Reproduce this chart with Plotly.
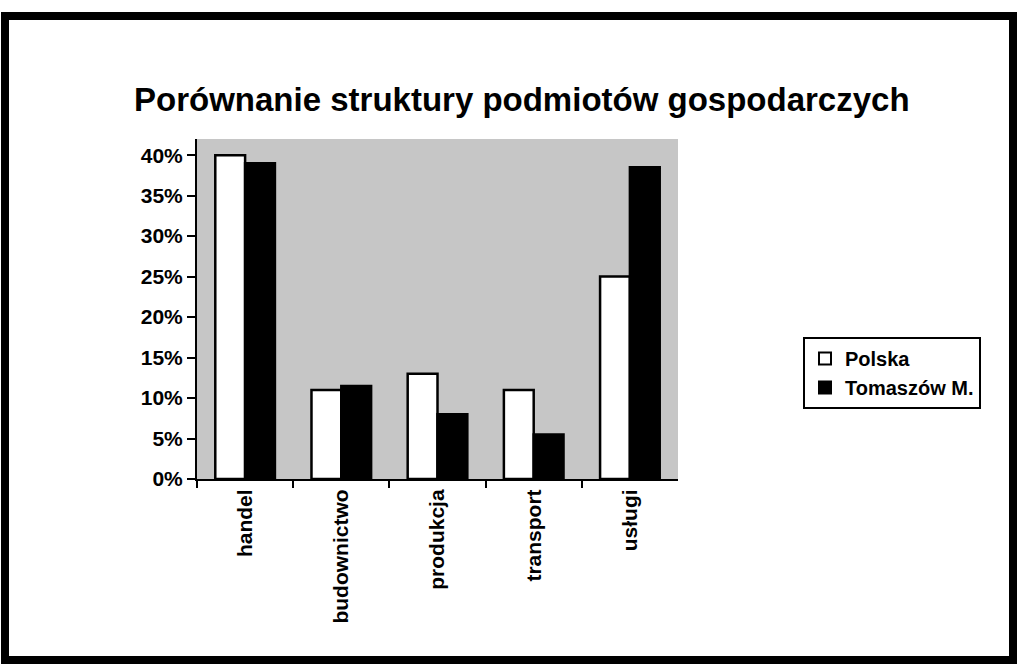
import plotly.graph_objects as go

categories = ["handel", "budownictwo", "produkcja", "transport", "usługi"]
polska = [0.40, 0.11, 0.13, 0.11, 0.25]
tomaszow = [0.39, 0.115, 0.08, 0.055, 0.385]
series_names = ["Polska", "Tomaszów M."]
y_ticks = [0, 0.05, 0.10, 0.15, 0.20, 0.25, 0.30, 0.35, 0.40]
y_tick_labels = ["0%", "5%", "10%", "15%", "20%", "25%", "30%", "35%", "40%"]
title_text = "Porównanie struktury podmiotów gospodarczych"

W, H = 1017, 664
FONT = "Liberation Sans, Arial, sans-serif"

fig = go.Figure()
fig.add_trace(go.Bar(
    x=categories, y=polska, name=series_names[0],
    marker=dict(color="white", line=dict(color="black", width=2.5)),
))
fig.add_trace(go.Bar(
    x=categories, y=tomaszow, name=series_names[1],
    marker=dict(color="black", line=dict(color="black", width=2.5)),
))

fig.update_layout(
    width=W, height=H,
    margin=dict(l=0, r=0, t=0, b=0),
    paper_bgcolor="white",
    plot_bgcolor="#c6c6c6",
    barmode="group",
    bargap=0.38,
    bargroupgap=0.0,
    font=dict(family=FONT, color="black", size=20),
    showlegend=True,
    legend=dict(
        x=803 / W, y=1 - 337 / H, xanchor="left", yanchor="top",
        bordercolor="black", borderwidth=2, bgcolor="white",
        font=dict(family=FONT, size=20, color="black", weight="bold"),
        itemsizing="constant", tracegroupgap=0, itemwidth=30,
    ),
    annotations=[dict(
        text="<b>" + title_text + "</b>",
        x=522 / W, y=1 - 100 / H, xref="paper", yref="paper",
        xanchor="center", yanchor="middle", showarrow=False,
        font=dict(family=FONT, size=33, color="black"),
    )],
    xaxis=dict(
        domain=[197 / W, 678 / W],
        automargin=False,
        showline=True, linecolor="black", linewidth=2,
        ticks="outside", tickson="boundaries", ticklen=7, tickwidth=2, tickcolor="black",
        tickangle=-90,
        tickfont=dict(family=FONT, size=21, color="black", weight="bold"),
        showgrid=False,
    ),
    yaxis=dict(
        domain=[1 - 479 / H, 1 - 139 / H],
        automargin=False,
        range=[0, 0.42],
        tickvals=y_ticks, ticktext=y_tick_labels,
        showline=True, linecolor="black", linewidth=2,
        ticks="outside", ticklen=8, tickwidth=2, tickcolor="black",
        tickfont=dict(family=FONT, size=21, color="black", weight="bold"),
        showgrid=False, zeroline=False,
    ),
    shapes=[
        dict(type="rect", xref="paper", yref="paper",
             x0=5 / W, x1=1013 / W, y0=1 - 660 / H, y1=1 - 16 / H,
             line=dict(color="black", width=8), fillcolor="rgba(0,0,0,0)", layer="above"),
    ],
)

fig.write_html(
    "out.html",
    config={"displayModeBar": False},
    post_script="document.body.style.margin='0';document.body.style.overflow='hidden';",
)
